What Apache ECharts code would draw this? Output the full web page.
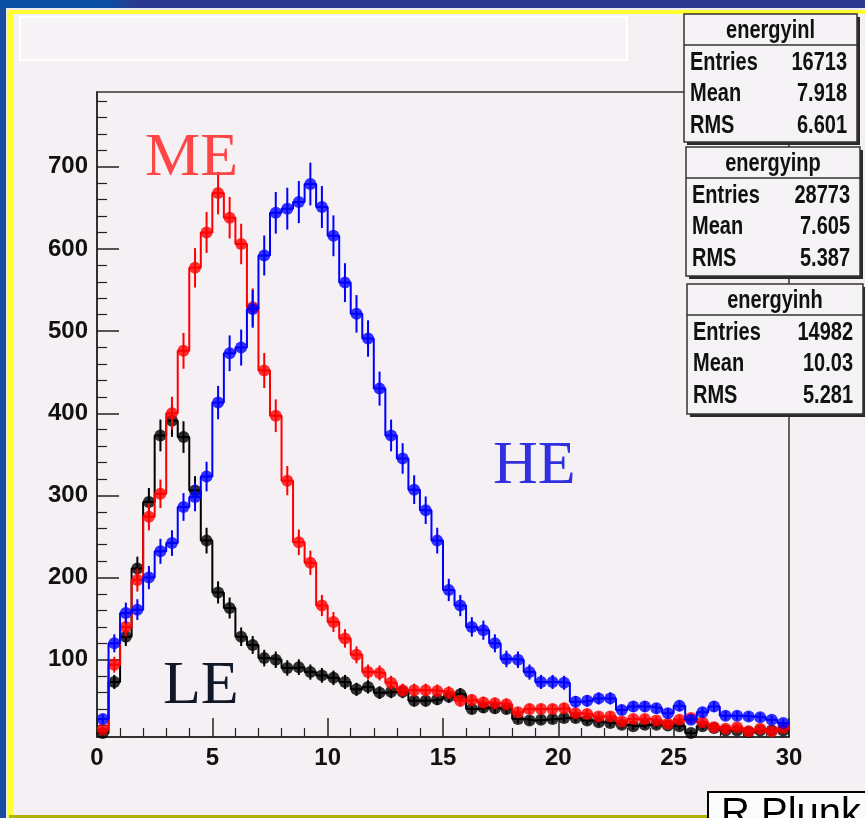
<!DOCTYPE html>
<html><head><meta charset="utf-8">
<script src="https://cdn.jsdelivr.net/npm/echarts@6/dist/echarts.min.js"></script>
<style>
html,body{margin:0;padding:0;}
#wrap{position:relative;width:865px;height:818px;overflow:hidden;background:#1b4b9f;}
#topband{position:absolute;left:0;top:0;width:865px;height:9px;background:linear-gradient(to right,#0b4fa2 0,#0b4fa2 110px,#2b3a8e 135px,#2b3a8e 100%);}
#wline{position:absolute;left:6px;top:8px;width:859px;height:810px;background:#e9e9f2;}
#yel{position:absolute;left:8px;top:10px;width:857px;height:808px;background:#ffff30;}
#inner{position:absolute;left:13px;top:14px;width:852px;height:801px;background:#f4f0f4;}
#bline{position:absolute;left:9px;top:815px;width:856px;height:3px;background:#b2b200;}
#c{position:absolute;left:0;top:0;width:865px;height:818px;}
</style>
</head><body>
<div id="wrap"><div id="topband"></div><div id="wline"></div><div id="yel"></div><div id="inner"></div><div id="bline"></div><div id="c"></div></div>
<script>
// ---- data ----
const binLow = 0, binHigh = 30, nBins = 60;
const xTickLabels = [0, 5, 10, 15, 20, 25, 30];
const yTickLabels = [100, 200, 300, 400, 500, 600, 700];
const yMinorTicks = [20,40,60,80,120,140,160,180,220,240,260,280,320,340,360,380,420,440,460,480,520,540,560,580,620,640,660,680,720,740,760,780];
const yRange = [6, 791];

const heValues = [28,120,157,161,200,232,242,286,298,323, 413,473,480,527,592,644,649,657,679,651,
  616,559,521,491,430,373,345,307,282,245, 185,166,140,136,120,101,100,85,73,73,
  72,49,50,53,53,39,43,43,41,35, 44,27,36,43,32,32,31,30,27,23];
const meValues = [15,94,140,197,274,302,400,476,577,620, 668,638,606,529,452,397,318,243,218,166,
  146,126,106,85,84,72,63,63,63,62, 60,50,51,48,47,46,36,40,40,40,
  41,35,34,31,31,25,28,28,26,22, 27,29,24,18,16,18,13,16,13,17];
const leValues = [11,73,128,211,292,373,391,371,306,245, 182,163,128,118,102,100,90,91,85,81,
  78,73,64,67,60,61,61,50,50,52, 55,58,40,42,41,40,28,26,27,28,
  29,29,26,24,23,21,19,21,21,20, 19,11,19,17,14,14,12,14,14,14];

const statNames = ['energyinl', 'energyinp', 'energyinh'];
const statEntries = ['16713', '28773', '14982'];
const statMeans = ['7.918', '7.605', '10.03'];
const statRMS = ['6.601', '5.387', '5.281'];

const curveNames = ['LE', 'ME', 'HE'];
const curveColors = ['#000000', '#ff0000', '#0000ff'];
const curveValues = [leValues, meValues, heValues];

// ---- build ----
const bw = (binHigh - binLow) / nBins;
function stepData(vals){
  const out = [];
  vals.forEach((v,i)=>{ out.push([binLow + i*bw, v]); out.push([binLow + (i+1)*bw, v]); });
  return out;
}
function pointData(vals){ return vals.map((v,i)=>[binLow + (i+0.5)*bw, v]); }

const sans = "'Liberation Sans',Arial,sans-serif";
const series = [];
curveValues.forEach((vals, k)=>{
  const col = curveColors[k];
  const z = 2 + k;
  series.push({type:'line', name:curveNames[k]+'-step', data:stepData(vals), showSymbol:false, symbol:'none',
    lineStyle:{color:col, width:2}, z:z, silent:true});
  series.push({type:'custom', name:curveNames[k]+'-err', data:pointData(vals), z:z, clip:true, silent:true,
    renderItem:function(params, api){
      const x = api.value(0), v = api.value(1), e = Math.sqrt(v);
      const p1 = api.coord([x, v + e]);
      const p2 = api.coord([x, Math.max(v - e, yRange[0])]);
      return {type:'line', shape:{x1:p1[0], y1:p1[1], x2:p2[0], y2:p2[1]}, style:{stroke:col, lineWidth:2}};
    }});
  series.push({type:'scatter', name:curveNames[k], data:pointData(vals), symbol:'circle', symbolSize:12,
    itemStyle:{color:col}, z:z, silent:true});
});

function statBox(i, left, top, right, bottom){
  const w = right-left, h = bottom-top;
  const font = 'bold 25px ' + sans;
  const sx = 0.8;
  const rows = [['Entries', statEntries[i]], ['Mean', statMeans[i]], ['RMS', statRMS[i]]];
  const els = [
    {type:'rect', shape:{x:left+3, y:top+3, width:w, height:h}, style:{fill:'#2a2a2a'}, z:100},
    {type:'rect', shape:{x:left, y:top, width:w, height:h}, style:{fill:'#f6f3f6', stroke:'#333', lineWidth:1.5}, z:101},
    {type:'line', shape:{x1:left, y1:top+31, x2:right, y2:top+31}, style:{stroke:'#333', lineWidth:1.5}, z:102},
    {type:'text', x:(left+right)/2, y:top+17, scaleX:sx, style:{text:statNames[i], font:font, fill:'#111', align:'center', verticalAlign:'middle'}, z:103}
  ];
  rows.forEach((r, j)=>{
    const cy = top + 49 + j*31.5;
    els.push({type:'text', x:left+6, y:cy, scaleX:sx, style:{text:r[0], font:font, fill:'#111', align:'left', verticalAlign:'middle'}, z:103});
    els.push({type:'text', x:right-10, y:cy, scaleX:sx, style:{text:r[1], font:font, fill:'#111', align:'right', verticalAlign:'middle'}, z:103});
  });
  return els;
}

const graphics = [
  {type:'rect', shape:{x:20, y:17, width:607, height:43}, style:{fill:'#f7f4f7', stroke:'#ffffff', lineWidth:2}, z:50},
  {type:'text', x:145, y:159, style:{text:'ME', font:"62px 'Liberation Serif',serif", fill:'#ff4646', align:'left', verticalAlign:'middle'}, z:60},
  {type:'text', x:493, y:467, style:{text:'HE', font:"62px 'Liberation Serif',serif", fill:'#3030e0', align:'left', verticalAlign:'middle'}, z:60},
  {type:'text', x:163, y:687, style:{text:'LE', font:"62px 'Liberation Serif',serif", fill:'#101828', align:'left', verticalAlign:'middle'}, z:60},
  ...statBox(0, 684, 14, 857, 142),
  ...statBox(1, 686, 147, 860, 276),
  ...statBox(2, 687, 284, 863, 414),
  {type:'rect', shape:{x:708, y:792, width:170, height:40}, style:{fill:'#fbfbfb', stroke:'#000', lineWidth:2}, z:100},
  {type:'text', x:721, y:815, style:{text:'R.Plunk', font:"40px 'Liberation Sans',Arial,sans-serif", fill:'#000', align:'left', verticalAlign:'middle'}, z:101}
];

const chart = echarts.init(document.getElementById('c'), null, {renderer:'canvas'});
chart.setOption({
  animation:false,
  backgroundColor:'transparent',
  grid:{left:97, top:92, right:76, bottom:81, show:true, borderColor:'#333', borderWidth:1.5, backgroundColor:'transparent'},
  xAxis:{type:'value', min:binLow, max:binHigh, interval:5,
    axisLine:{show:true, onZero:false, lineStyle:{color:'#222', width:1.5}},
    axisTick:{show:true, inside:true, length:19, lineStyle:{color:'#222', width:1.5}},
    minorTick:{show:true, splitNumber:5, length:9, lineStyle:{color:'#222', width:1.2}},
    splitLine:{show:false},
    axisLabel:{margin:9, color:'#111', fontSize:24, fontWeight:'bold', fontFamily:sans,
      customValues:xTickLabels}},
  yAxis:[
    {type:'value', min:yRange[0], max:yRange[1], position:'left',
      axisLine:{show:true, lineStyle:{color:'#222', width:1.5}},
      axisTick:{show:true, inside:true, length:22, customValues:yTickLabels, lineStyle:{color:'#222', width:1.5}},
      splitLine:{show:false},
      axisLabel:{margin:9, color:'#111', fontSize:24, fontWeight:'bold', fontFamily:sans, customValues:yTickLabels}},
    {type:'value', min:yRange[0], max:yRange[1], position:'left', offset:0,
      axisLine:{show:false},
      axisTick:{show:true, inside:true, length:10, customValues:yMinorTicks, lineStyle:{color:'#222', width:1.2}},
      splitLine:{show:false}, axisLabel:{show:false}}
  ],
  series:series,
  graphic:{elements:graphics}
});
</script>
</body></html>
